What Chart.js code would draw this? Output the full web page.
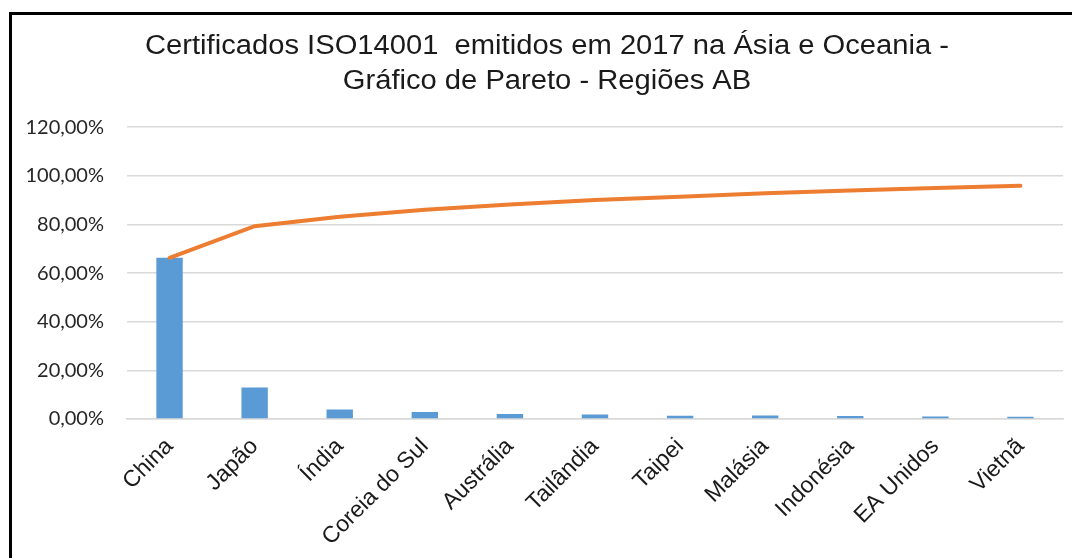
<!DOCTYPE html>
<html lang="pt">

<head>
    <meta charset="UTF-8">
    <title>Certificados ISO14001 - Pareto</title>
    <script src="https://cdn.jsdelivr.net/npm/chart.js@4.4.1/dist/chart.umd.min.js"></script>
    <style>
        body { margin: 0; background: #fff; overflow: hidden; }
        #moldura {
            position: absolute; left: 9px; top: 12px;
            width: 1080px; height: 560px;
            border: 3px solid #000; box-sizing: border-box;
        }
        #wrap { position: absolute; left: 0; top: 0; width: 1072px; height: 558px; }
    </style>
</head>

<body>
    <div id="moldura"></div>
    <div id="wrap"><canvas id="pareto"></canvas></div>

    <script>
        // países (regiões AB)
        const paises = ['China', 'Japão', 'Índia', 'Coreia do Sul', 'Austrália', 'Tailândia',
            'Taipei', 'Malásia', 'Indonésia', 'EA Unidos', 'Vietnã'];

        // participação de cada país (%)
        const participacao = [66.3, 13.0, 3.9, 2.9, 2.1, 1.9, 1.3, 1.4, 1.2, 1.0, 0.9];

        // percentual acumulado (%)
        const acumulado = [66.3, 79.3, 83.2, 86.1, 88.2, 90.1, 91.4, 92.8, 94.0, 95.0, 95.9];

        const ticksY = [0, 20, 40, 60, 80, 100, 120];

        const titulo = ['Certificados ISO14001  emitidos em 2017 na Ásia e Oceania -',
            'Gráfico de Pareto - Regiões AB'];

        const fmt = v => v.toFixed(2).replace('.', ',') + '%';

        // título desenhado à mão: centrado em x=547 e um pouco mais largo (fonte esticada)
        const tituloCentrado = {
            id: 'tituloCentrado',
            afterDraw(chart, args, opts) {
                const { ctx } = chart;
                ctx.save();
                ctx.font = opts.size + 'px ' + opts.family;
                ctx.fillStyle = opts.color;
                ctx.textAlign = 'center';
                ctx.textBaseline = 'middle';
                titulo.forEach((linha, i) => {
                    ctx.save();
                    ctx.translate(opts.x, opts.y + i * opts.lineGap);
                    ctx.scale(opts.stretch, 1);
                    ctx.fillText(linha, 0, 0);
                    ctx.restore();
                });
                ctx.restore();
            }
        };

        const chart = new Chart(document.getElementById('pareto'), {
            data: {
                labels: paises,
                datasets: [{
                    type: 'line',
                    label: 'Acumulado',
                    data: acumulado,
                    borderColor: '#ED7D31',
                    borderWidth: 4,
                    borderCapStyle: 'round',
                    pointRadius: 0,
                    tension: 0,
                    order: 0
                }, {
                    type: 'bar',
                    label: 'Participação',
                    data: participacao,
                    backgroundColor: '#5B9BD5',
                    barPercentage: 0.31,
                    categoryPercentage: 1,
                    order: 1
                }]
            },
            options: {
                responsive: true,
                maintainAspectRatio: false,
                animation: false,
                layout: { padding: { left: 0, right: 9, top: 0, bottom: 0 } },
                plugins: {
                    legend: { display: false },
                    tooltip: { enabled: false },
                    // só reserva o espaço; o texto vem do plugin tituloCentrado
                    title: {
                        display: true,
                        text: titulo,
                        color: 'rgba(0,0,0,0)',
                        font: { family: 'Liberation Sans', size: 27, weight: 'normal', lineHeight: 1.3 },
                        padding: { top: 29, bottom: 28 }
                    },
                    tituloCentrado: {
                        x: 547, y: 47, lineGap: 35,
                        size: 27, family: 'Liberation Sans',
                        color: '#1a1a1a', stretch: 1.08
                    }
                },
                scales: {
                    x: {
                        grid: { display: false, drawTicks: false },
                        border: { color: '#d9d9d9', width: 1.5 },
                        ticks: {
                            color: '#1a1a1a',
                            font: { family: 'Liberation Sans', size: 23 },
                            maxRotation: 45, minRotation: 45,
                            padding: 14
                        },
                        afterFit: s => { s.height = 558 - 419; }
                    },
                    y: {
                        min: 0, max: 120,
                        border: { display: false },
                        grid: { color: '#d9d9d9', lineWidth: 1.5, drawTicks: false },
                        afterBuildTicks: s => { s.ticks = ticksY.map(v => ({ value: v })); },
                        ticks: {
                            color: '#262626',
                            font: { family: 'Lato', size: 20 },
                            padding: 23,
                            callback: v => fmt(v)
                        },
                        afterFit: s => { s.width = 127; }
                    }
                }
            },
            plugins: [tituloCentrado]
        });
    </script>

</body>

</html>
